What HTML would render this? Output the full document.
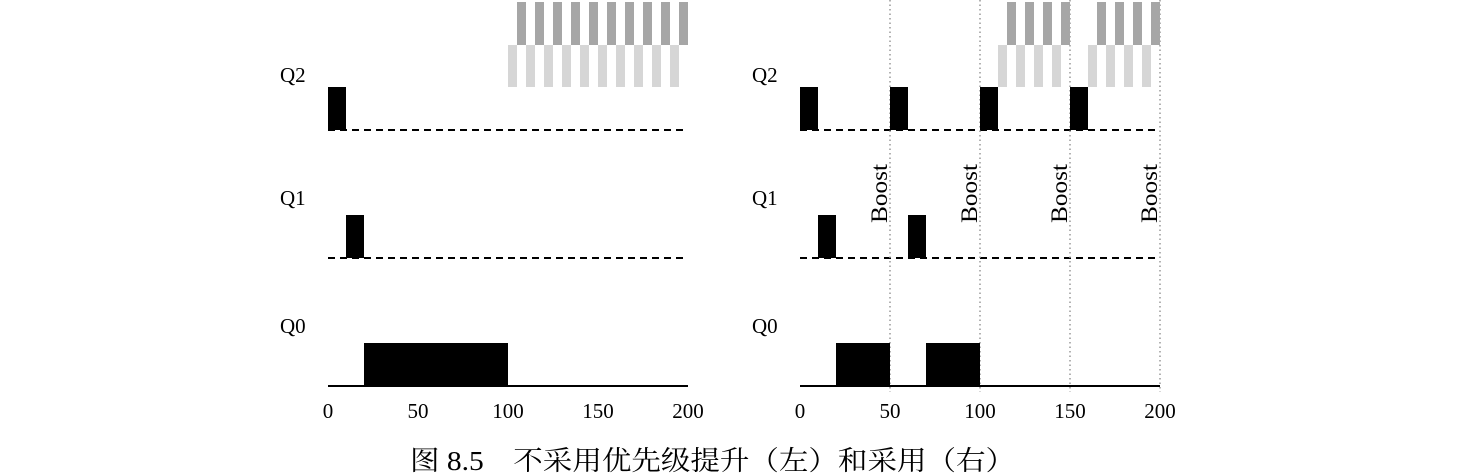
<!DOCTYPE html>
<html><head><meta charset="utf-8"><style>
body{margin:0;background:#fff;}
svg{display:block;font-family:"Liberation Serif","Noto Serif CJK SC",serif;}
</style></head><body>
<svg id="c" width="1460" height="474"></svg>
<script>
const xTicks=[0,50,100,150,200];
const queues=["Q2","Q1","Q0"];
// left chart: [queueIndex, start, end]
const leftBlocks=[[0,0,10],[1,10,20],[2,20,100]];
const leftLight=[100,110,120,130,140,150,160,170,180,190];
const leftDark=[105,115,125,135,145,155,165,175,185,195];
// right chart
const rightBlocks=[[0,0,10],[0,50,60],[0,100,110],[0,150,160],[1,10,20],[1,60,70],[2,20,50],[2,70,100]];
const rightLight=[110,120,130,140,160,170,180,190];
const rightDark=[115,125,135,145,165,175,185,195];
const boosts=[50,100,150,200];
const caption="图 8.5　不采用优先级提升（左）和采用（右）";

const svg=document.getElementById('c');
const NS="http://www.w3.org/2000/svg";
function mk(t,a,p){const e=document.createElementNS(NS,t);for(const k in a)e.setAttribute(k,a[k]);(p||svg).appendChild(e);return e;}
const baseY=[130,258,386], blockH=43, labelY=[82,205,333];

function chart(x0,prefix,blocks,light,dark,withBoost){
  const sx=v=>x0+v*1.8;
  const g=mk('g',{});
  
  
  queues.forEach((q,i)=>{
    const t=mk('text',{x:x0-48,y:labelY[i],'font-size':21},g);t.textContent=q;
    
    
    const l=mk('line',{x1:sx(0),x2:sx(200),y1:baseY[i],y2:baseY[i],stroke:'#000','stroke-width':2,'stroke-dasharray':i<2?'7,5':'none'},g);
    
    
  });
  if(withBoost){
    boosts.forEach(b=>{
      const l=mk('line',{x1:sx(b),x2:sx(b),y1:0,y2:392,stroke:'#999','stroke-width':1.5,'stroke-dasharray':'1.5,3'},g);
      
      
      const t=mk('text',{x:0,y:0,'font-size':23,textLength:59,lengthAdjust:'spacingAndGlyphs',transform:`translate(${sx(b)-3},223) rotate(-90)`},g);t.textContent='Boost';
      
      
    });
  }
  light.forEach(s=>{const r=mk('rect',{x:sx(s),y:45,width:5*1.8,height:42,fill:'#d6d6d6'},g);
    });
  dark.forEach(s=>{const r=mk('rect',{x:sx(s),y:2,width:5*1.8,height:43,fill:'#a6a6a6'},g);
    });
  blocks.forEach(b=>{const r=mk('rect',{x:sx(b[1]),y:baseY[b[0]]-blockH,width:(b[2]-b[1])*1.8,height:blockH,fill:'#000'},g);
    });
  xTicks.forEach(v=>{const t=mk('text',{x:sx(v),y:418,'font-size':21,'text-anchor':'middle'},g);t.textContent=v;
    });
}
chart(328,'left',leftBlocks,leftLight,leftDark,false);
chart(800,'right',rightBlocks,rightLight,rightDark,true);
const cap=mk('text',{x:410,y:470,'font-size':27,textLength:605,lengthAdjust:'spacingAndGlyphs'});cap.textContent=caption;


</script>
</body></html>
